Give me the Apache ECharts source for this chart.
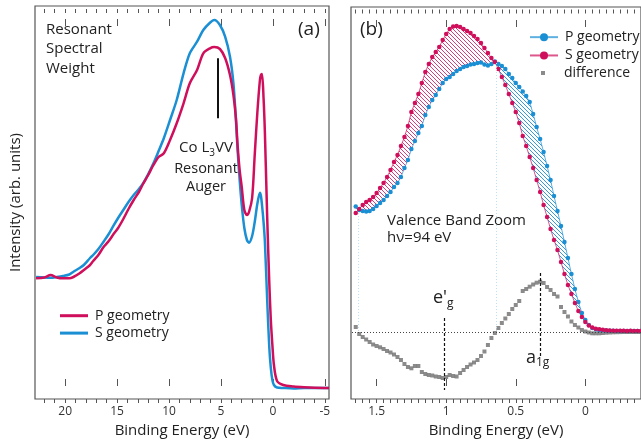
<!DOCTYPE html>
<html>
<head>
<meta charset="utf-8">
<script src="https://cdn.jsdelivr.net/npm/echarts@6/dist/echarts.min.js"></script>
<style>
  html, body { margin: 0; padding: 0; background: #fff; }
  #chart { width: 641px; height: 447px; }
</style>
</head>
<body>
<div id="chart"></div>
<script>
// (a) resonant spectral weight, full range
const leftBE = [22.8, 22.0, 21.4, 20.8, 20.2, 19.6, 19.2, 18.6, 18.2, 17.6, 17.3, 16.8, 16.3, 15.8, 15.4, 14.9,
  14.4, 13.9, 13.4, 12.9, 12.5, 12.0, 11.5, 11.0, 10.5, 9.9, 9.26, 8.6, 8.0, 7.3, 6.7, 6.06, 5.64, 5.1, 4.6,
  4.13, 3.8, 3.56, 3.4, 3.2, 3.0, 2.75, 2.5, 2.3, 2.0, 1.75, 1.5, 1.25, 1.15, 1.05, 0.9, 0.77, 0.55, 0.35,
  0.2, 0.05, -0.1, -0.4, -1.0, -2.0, -3.0, -4.0, -5.4];
const leftP = [109.7, 110.5, 113, 110.5, 109.7, 109.7, 111, 114.7, 118, 123, 127, 133, 141, 147, 153, 160,
  169, 179, 188, 196, 204, 213, 223, 231, 234.7, 248, 264.7, 284.7, 304.7, 318, 334.7, 339.7, 341, 339, 330,
  313, 293, 270, 243, 218, 201, 178, 173, 176, 190, 233, 275, 308, 313, 314, 290, 255, 171, 106,
  68, 43, 23, 7, 3, 1.5, 0.7, 0.2, 0];
const leftS = [111, 110.5, 110.3, 111, 112, 113.5, 116.3, 120, 123, 130, 133, 139, 146.3, 154, 161.3, 170,
  178, 186, 193, 199, 204.7, 214, 224.7, 237, 249.7, 268, 288, 314.7, 334.7, 346.3, 358, 365.3, 368, 363, 351.3,
  331.3, 304.7, 268, 238, 208, 183, 160, 148, 145.3, 152, 166, 184, 195.3, 192, 183, 166, 146, 88, 41,
  20, 8, 3, 0.5, 0, -0.5, 0, 0, 0];
const leftTickLabels = [20, 15, 10, 5, 0, -5];

// (b) valence band zoom
const rightBE = [1.65, 1.625, 1.6, 1.575, 1.55, 1.525, 1.5, 1.475, 1.45, 1.425, 1.4, 1.375, 1.35, 1.325, 1.3,
  1.275, 1.25, 1.225, 1.2, 1.175, 1.15, 1.125, 1.1, 1.075, 1.05, 1.025, 1.0, 0.975, 0.95, 0.925, 0.9, 0.875,
  0.85, 0.825, 0.8, 0.775, 0.75, 0.725, 0.7, 0.675, 0.65, 0.625, 0.6, 0.575, 0.55, 0.525, 0.5, 0.475, 0.45,
  0.425, 0.4, 0.375, 0.35, 0.325, 0.3, 0.275, 0.25, 0.225, 0.2, 0.175, 0.15, 0.125, 0.1, 0.075, 0.05, 0.025,
  0, -0.025, -0.05, -0.075, -0.1, -0.125, -0.15, -0.175, -0.2, -0.225, -0.25, -0.275, -0.3, -0.325, -0.35,
  -0.375, -0.4];
const rightP = [125.5, 122, 121, 120.5, 121, 123, 126, 129, 132, 136, 140, 145, 149, 155, 164,
  172, 183, 191, 199, 206, 217, 225, 232, 237, 243, 249, 253, 255, 258, 261, 263, 265,
  266, 267.5, 268, 269, 269.5, 267.5, 266.5, 268, 270.5, 268, 266, 263, 258, 254, 249, 245, 240.5,
  236, 230, 218, 205, 193, 180, 166, 152, 136, 121, 106, 90, 74, 58, 43, 30, 19,
  12, 7, 4, 2.7, 2, 1.7, 1.5, 1.3, 1.2, 1.1, 1.1, 1, 1, 1, 1,
  1, 1];
const rightS = [119, 123, 127, 130, 132, 135, 139, 144, 149, 155, 162, 170, 177, 186, 195,
  206, 220, 229, 238, 249, 260, 268, 275, 280, 285, 292, 298, 303, 305.5, 306, 305, 303,
  301, 299, 296, 293, 289, 284, 279, 274, 270, 263, 255, 247, 238, 229, 220, 209, 196,
  186, 175, 164, 152, 140, 127, 115, 103, 92, 82, 70, 58, 47, 38, 29, 21, 15,
  10, 6.5, 4.5, 3.3, 2.7, 2.2, 1.8, 1.5, 1.3, 1.3, 1.2, 1.2, 1.1, 1.2, 1.1,
  1.1, 1];
const rightDiff = [5, -2, -5, -7.5, -10, -12.5, -14, -15.3, -17, -19, -20.5, -22.5, -25, -28, -32,
  -35, -36.3, -34, -34, -40, -42, -43, -43.5, -44.5, -45, -46, -45, -43, -44, -44.5, -41, -38,
  -35, -32.5, -30.5, -28, -24, -19.5, -13, -6, -1, 4, 9, 13.5, 18, 23, 27, 31, 41,
  43, 45.3, 47.5, 49.3, 50.3, 49, 45, 42, 38, 35.5, 25, 20, 15.5, 10.5, 7, 4.5, 2,
  0.5, -0.5, -1.3, -1.3, -1.3, -1, -0.7, -0.5, -0.3, -0.2, -0.1, 0, 0, 0, 0,
  0, 0];
const rightTickLabels = [1.5, 1, 0.5, 0];

// annotation marks
const augerBE = 5.32, augerTop = 329.7, augerBottom = 269.7;
const egBE = 1.011, egTop = 14, egBottom = -58;
const a1gBE = 0.326, a1gTop = 59, a1gBottom = -26;
const guideBE = [1.63, 0.638], guideTop = [119, 269];

const RED = '#cf0f5b';
const BLUE = '#1a8fd3';
const GRAY = '#6e6e6e';
const FONT = '"Open Sans", sans-serif';
const AXIS = '#555';

const pairs = (xs, ys) => xs.map((x, i) => [x, ys[i]]);

function hatch(color) {
  const c = document.createElement('canvas');
  c.width = 4; c.height = 4;
  const g = c.getContext('2d');
  g.strokeStyle = color;
  g.lineWidth = 1;
  g.beginPath();
  g.moveTo(0, 0); g.lineTo(4, 4);
  g.moveTo(-1, 3); g.lineTo(1, 5);
  g.moveTo(3, -1); g.lineTo(5, 1);
  g.stroke();
  return c;
}
const pinkHatch = { image: hatch('rgba(214,40,110,0.9)'), repeat: 'repeat' };
const blueHatch = { image: hatch('rgba(30,145,215,0.9)'), repeat: 'repeat' };

// minor tick positions
const leftMinor = [];
for (let v = 22; v >= -5; v--) leftMinor.push(v);
const rightMinor = [];
for (let k = 33; k >= -7; k--) rightMinor.push(k / 20);

const LEFT_RANGE = [-5.4, 22.9];
const RIGHT_RANGE = [-0.4, 1.684];

// label axis (sits on the frame edge)
function labelAxis(grid, range, labels) {
  return {
    type: 'value', gridIndex: grid, inverse: true, min: range[0], max: range[1], position: 'bottom',
    splitLine: { show: false }, axisTick: { show: false },
    axisLine: { show: false, onZero: false },
    axisLabel: { show: true, customValues: labels, margin: 7, fontSize: 12, color: '#333', fontFamily: FONT },
    name: 'Binding Energy (eV)', nameLocation: 'middle', nameGap: 24,
    nameTextStyle: { fontSize: 15, color: '#222', fontFamily: FONT }
  };
}
// tick-only axis; its strip grid is centred on the frame edge so the axis sits at y = 0.
// On a zero-pinned axis the ticks point to the label side, so the side is swapped to face the plot.
function tickAxis(grid, range, side, ticks, len) {
  return {
    type: 'value', gridIndex: grid, inverse: true, min: range[0], max: range[1],
    position: side === 'bottom' ? 'top' : 'bottom',
    splitLine: { show: false }, axisLabel: { show: false },
    axisLine: { show: false },
    axisTick: { show: true, inside: true, length: len, customValues: ticks, lineStyle: { color: AXIS, width: 1 } }
  };
}
function plainY(grid, min, max, opts) {
  return Object.assign({
    type: 'value', gridIndex: grid, min: min, max: max, show: false,
    splitLine: { show: false }, axisTick: { show: false }, axisLabel: { show: false },
    axisLine: { show: false, onZero: false }
  }, opts || {});
}

// hatched area between the two geometries, drawn through the axis scales
function renderHatch(params, api) {
  const low = rightBE.map((x, i) => api.coord([x, Math.min(rightP[i], rightS[i])])).reverse();
  const sPts = rightBE.map((x, i) => api.coord([x, rightS[i]])).concat(low);
  const pPts = rightBE.map((x, i) => api.coord([x, rightP[i]])).concat(low);
  return {
    type: 'group',
    children: [
      { type: 'polygon', shape: { points: sPts }, style: { fill: pinkHatch, stroke: null } },
      { type: 'polygon', shape: { points: pPts }, style: { fill: blueHatch, stroke: null } }
    ]
  };
}

const chart = echarts.init(document.getElementById('chart'), null, { renderer: 'canvas' });

const frame = { show: true, borderColor: AXIS, borderWidth: 1.2, backgroundColor: 'transparent' };
// tick strips: 40 px tall, centred on each frame edge
const strip = (left, width, edge) => ({ left: left, width: width, top: edge - 20, height: 40 });

chart.setOption({
  animation: false,
  backgroundColor: '#fff',
  textStyle: { fontFamily: FONT },
  grid: [
    Object.assign({ left: 35, top: 6, width: 294, height: 393 }, frame),
    Object.assign({ left: 351, top: 7, width: 290.5, height: 392 }, frame),
    strip(35, 294, 399),
    strip(35, 294, 6),
    strip(351, 290.5, 399),
    strip(351, 290.5, 7)
  ],
  xAxis: [
    labelAxis(0, LEFT_RANGE, leftTickLabels),
    labelAxis(1, RIGHT_RANGE, rightTickLabels),
    tickAxis(2, LEFT_RANGE, 'bottom', leftMinor, 4),
    tickAxis(2, LEFT_RANGE, 'bottom', leftTickLabels, 7),
    tickAxis(3, LEFT_RANGE, 'top', leftMinor, 4),
    tickAxis(3, LEFT_RANGE, 'top', leftTickLabels, 7),
    tickAxis(4, RIGHT_RANGE, 'bottom', rightMinor, 4),
    tickAxis(4, RIGHT_RANGE, 'bottom', rightTickLabels, 7),
    tickAxis(5, RIGHT_RANGE, 'top', rightMinor, 4),
    tickAxis(5, RIGHT_RANGE, 'top', rightTickLabels, 7)
  ],
  yAxis: [
    plainY(0, -11, 382, {
      show: true,
      name: 'Intensity (arb. units)', nameLocation: 'middle', nameGap: 12,
      nameTextStyle: { fontSize: 15, color: '#222', fontFamily: FONT }
    }),
    plainY(1, -67, 325),
    plainY(2, -1, 1),
    plainY(3, -1, 1),
    plainY(4, -1, 1),
    plainY(5, -1, 1)
  ],
  legend: [
    {
      left: 55, top: 302, orient: 'vertical', icon: 'rect', itemWidth: 28, itemHeight: 3, itemGap: 0,
      data: ['P geometry', 'S geometry'],
      textStyle: { fontSize: 14, color: '#222', fontFamily: FONT, lineHeight: 17.4, padding: [0, 0, 0, 2] }
    },
    {
      left: 524, top: 23, orient: 'vertical', itemWidth: 28, itemHeight: 10, itemGap: 0,
      data: ['P geometry (b)', 'S geometry (b)'],
      formatter: n => n.replace(' (b)', ''),
      textStyle: { fontSize: 14, color: '#222', fontFamily: FONT, lineHeight: 18.3, padding: [0, 0, 0, 2] }
    },
    {
      left: 536, top: 59, orient: 'vertical', icon: 'rect', itemWidth: 4, itemHeight: 4,
      data: ['difference'],
      textStyle: { fontSize: 14, color: '#222', fontFamily: FONT, lineHeight: 18, padding: [0, 0, 0, 14] }
    }
  ],
  series: [
    {
      name: 'S geometry', type: 'line', xAxisIndex: 0, yAxisIndex: 0,
      data: pairs(leftBE, leftS), symbol: 'none', smooth: 0.3,
      lineStyle: { color: BLUE, width: 2.5 }, itemStyle: { color: BLUE }
    },
    {
      name: 'P geometry', type: 'line', xAxisIndex: 0, yAxisIndex: 0,
      data: pairs(leftBE, leftP), symbol: 'none', smooth: 0.3,
      lineStyle: { color: RED, width: 2.5 }, itemStyle: { color: RED },
      markLine: {
        silent: true, symbol: 'none', label: { show: false },
        data: [[
          { coord: [augerBE, augerTop], lineStyle: { color: '#111', width: 2, type: 'solid' } },
          { coord: [augerBE, augerBottom] }
        ]]
      }
    },
    {
      name: 'hatch', type: 'custom', xAxisIndex: 1, yAxisIndex: 1, silent: true, z: 1,
      data: [[0, 0]], renderItem: renderHatch
    },
    {
      name: 'difference', type: 'scatter', xAxisIndex: 1, yAxisIndex: 1,
      data: pairs(rightBE, rightDiff), symbol: 'rect', symbolSize: 4,
      itemStyle: { color: GRAY },
      markLine: {
        silent: true, symbol: 'none', label: { show: false },
        data: [
          { yAxis: 0, lineStyle: { color: '#444', width: 1, type: [1, 2] } },
          [
            { coord: [egBE, egTop], lineStyle: { color: '#111', width: 1.2, type: [3, 2] } },
            { coord: [egBE, egBottom] }
          ],
          [
            { coord: [a1gBE, a1gTop], lineStyle: { color: '#111', width: 1.2, type: [3, 2] } },
            { coord: [a1gBE, a1gBottom] }
          ],
          [
            { coord: [guideBE[0], guideTop[0]], lineStyle: { color: '#bfe0f4', width: 1, type: [1, 2] } },
            { coord: [guideBE[0], 1] }
          ],
          [
            { coord: [guideBE[1], guideTop[1]], lineStyle: { color: '#bfe0f4', width: 1, type: [1, 2] } },
            { coord: [guideBE[1], 1] }
          ]
        ]
      }
    },
    {
      name: 'P geometry (b)', type: 'line', xAxisIndex: 1, yAxisIndex: 1,
      data: pairs(rightBE, rightP), symbol: 'circle', symbolSize: 4.5, showSymbol: true,
      lineStyle: { color: BLUE, width: 1, opacity: 0.7 }, itemStyle: { color: BLUE }
    },
    {
      name: 'S geometry (b)', type: 'line', xAxisIndex: 1, yAxisIndex: 1,
      data: pairs(rightBE, rightS), symbol: 'circle', symbolSize: 4.5, showSymbol: true,
      lineStyle: { color: RED, width: 1, opacity: 0.7 }, itemStyle: { color: RED }
    }
  ],
  graphic: [
    { type: 'text', x: 46, y: 20, style: { text: 'Resonant\nSpectral\nWeight', fontSize: 15, fontFamily: FONT, fill: '#222', lineHeight: 19.3 } },
    { type: 'text', x: 298, y: 20, style: { text: '(a)', fontSize: 19, fontFamily: FONT, fill: '#222' } },
    { type: 'text', x: 360, y: 20, style: { text: '(b)', fontSize: 19, fontFamily: FONT, fill: '#222' } },
    {
      type: 'text', x: 206, y: 138,
      style: {
        text: 'Co L{s|3}VV', fontSize: 15, fontFamily: FONT, fill: '#222', align: 'center', lineHeight: 20,
        rich: { s: { fontSize: 10, fontFamily: FONT, fill: '#222', verticalAlign: 'bottom', lineHeight: 11 } }
      }
    },
    { type: 'text', x: 206, y: 161, style: { text: 'Resonant', fontSize: 14.5, fontFamily: FONT, fill: '#222', align: 'center' } },
    { type: 'text', x: 206, y: 179, style: { text: 'Auger', fontSize: 14.5, fontFamily: FONT, fill: '#222', align: 'center' } },
    { type: 'text', x: 387, y: 212, style: { text: 'Valence Band Zoom\nh\u03bd=94 eV', fontSize: 15, fontFamily: FONT, fill: '#222', lineHeight: 17 } },
    {
      type: 'text', x: 433, y: 286,
      style: {
        text: "e'{s|g}", fontSize: 18, fontFamily: FONT, fill: '#222', lineHeight: 24,
        rich: { s: { fontSize: 12, fontFamily: FONT, fill: '#222', verticalAlign: 'bottom', lineHeight: 13 } }
      }
    },
    {
      type: 'text', x: 526, y: 347,
      style: {
        text: 'a{s|1g}', fontSize: 18, fontFamily: FONT, fill: '#222', lineHeight: 22,
        rich: { s: { fontSize: 12, fontFamily: FONT, fill: '#222', verticalAlign: 'bottom', lineHeight: 13 } }
      }
    }
  ]
});
</script>
</body>
</html>
